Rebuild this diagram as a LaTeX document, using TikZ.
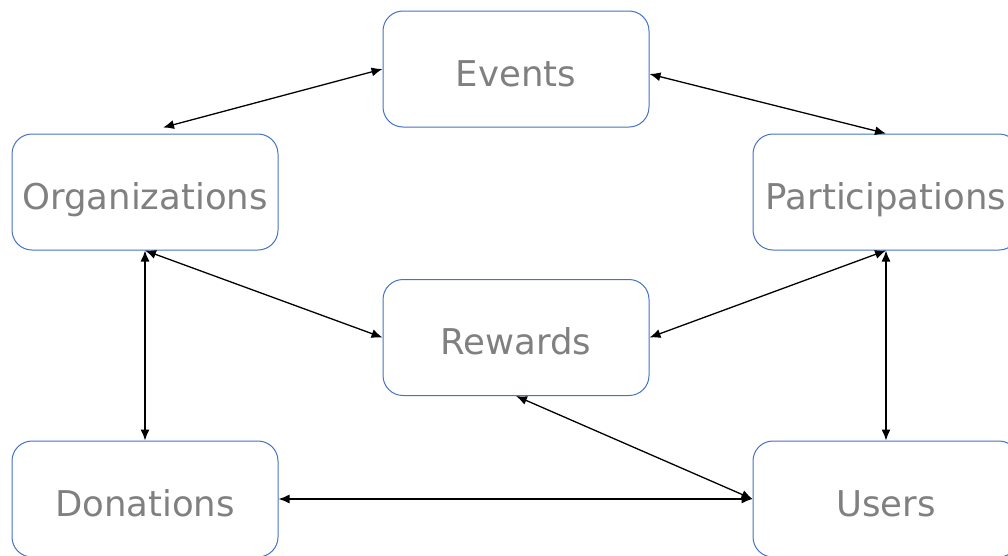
\documentclass[tikz,border=0pt]{standalone}
\usepackage{fontspec}
\setmainfont{DejaVu Sans}
\usetikzlibrary{arrows.meta}
\usetikzlibrary{shapes}

\definecolor{boxblue}{HTML}{4472C4}
\definecolor{labelgray}{HTML}{808080}

\tikzset{
    entity/.style={draw=boxblue, line width=1pt, rounded corners=20pt, minimum width=266pt, minimum height=116pt, text height=34pt, text depth=0pt, text=labelgray, font=\fontsize{35.5}{40}\selectfont},
    link/.style={{Latex[length=11pt,width=9pt]}-{Latex[length=11pt,width=9pt]}, line width=1.3pt}
}

\begin{document}
\begin{tikzpicture}[x=1pt,y=-1pt]
    \useasboundingbox (0,0) rectangle (1008,555);
    \begin{scope}
    \clip (0,0) rectangle (1008,555);
    \node[entity] (Ev) at (516,69) {Events};
    \node[entity] (Org) at (145,192) {Organizations};
    \node[entity] (Part) at (886,192) {Participations};
    \node[entity] (Rew) at (516,337.5) {Rewards};
    \node[entity] (Don) at (145,499) {Donations};
    \node[entity] (Us) at (886,499) {Users};
    \end{scope}

    \draw[link] (Ev.west) to ([shift={(18,-6)}]Org.north);
    \draw[link] ([yshift=-5pt]Ev.east) to (Part.north);
    \draw[link] (Org.south) to (Rew.west);
    \draw[link] (Part.south) to (Rew.east);
    \draw[link] (Org.south) to (Don.north);
    \draw[link] (Part.south) to (Us.north);
    \draw[link] (Rew.south) to (Us.west);
    \draw[link] (Don.east) to (Us.west);
\end{tikzpicture}
\end{document}
